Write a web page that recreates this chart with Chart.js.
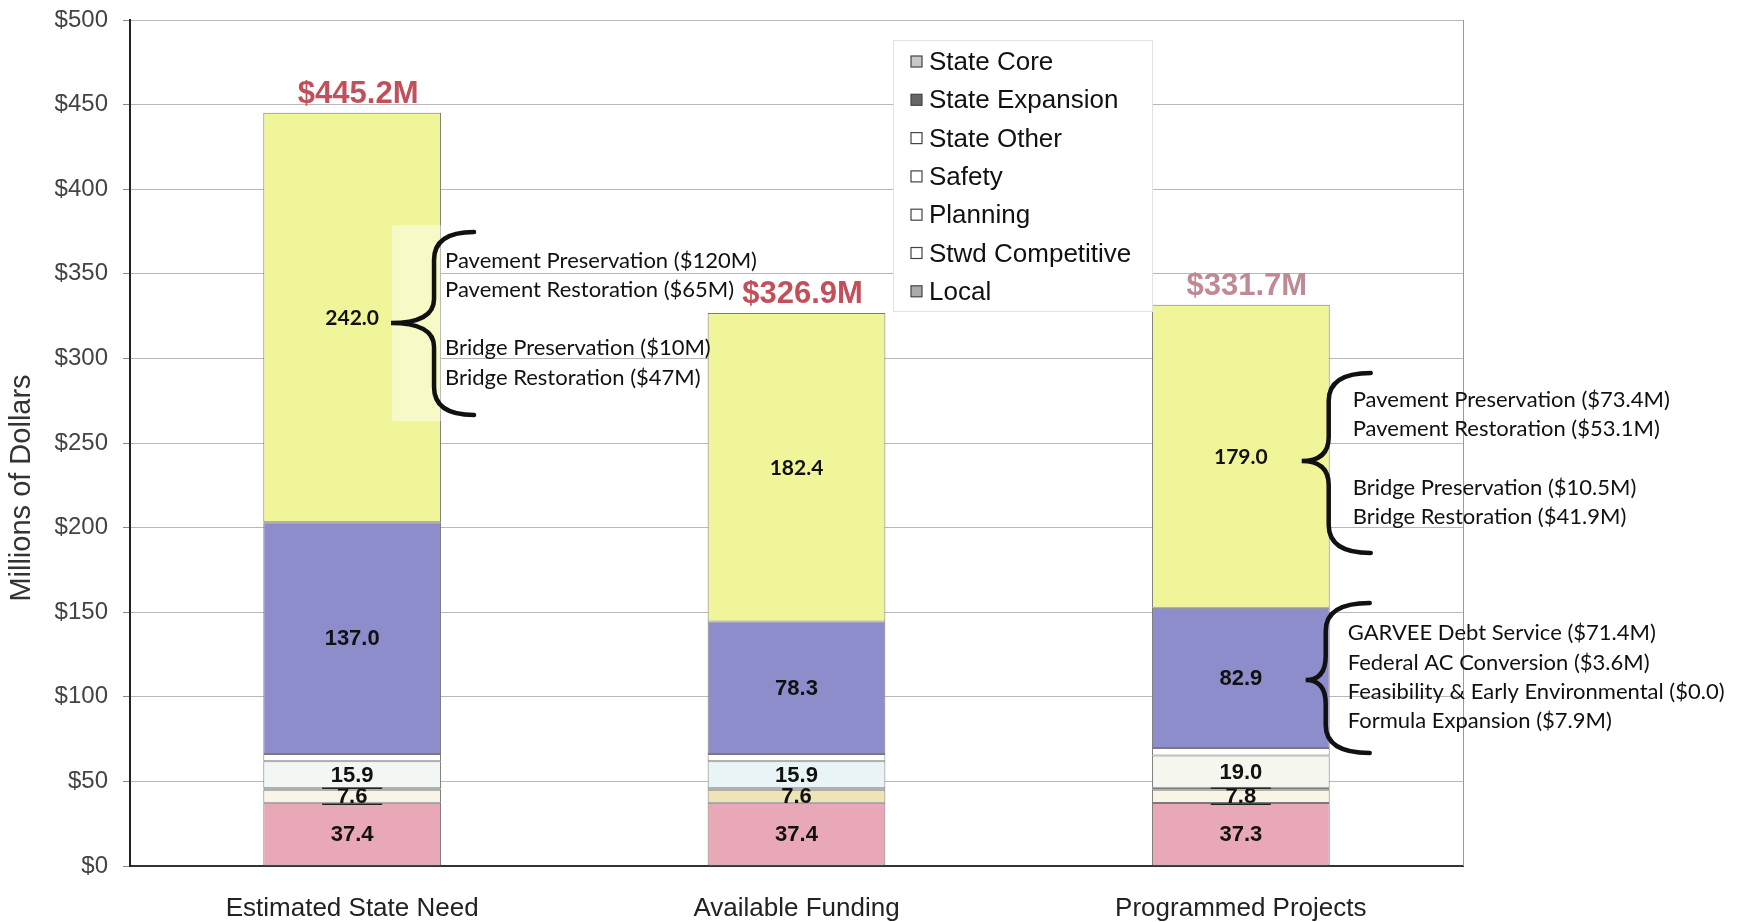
<!DOCTYPE html>
<html>
<head>
<meta charset="utf-8">
<script src="https://cdn.jsdelivr.net/npm/chart.js@4.4.0/dist/chart.umd.min.js"></script>
<style>
  html, body { margin: 0; padding: 0; background: #fff; }
  #wrap { width: 1741px; height: 922px; }
</style>
</head>
<body>
<div id="wrap"><canvas id="fundingChart" width="1741" height="922"></canvas></div>
<script>
// Funding by program group, $ millions
const categories = ['Estimated State Need', 'Available Funding', 'Programmed Projects'];
const local = [37.4, 37.4, 37.3];
const stwdCompetitive = [7.6, 7.6, 7.8];
const planning = [1.0, 1.0, 1.2];
const safety = [15.9, 15.9, 19.0];
const stateOther = [4.3, 4.3, 4.5];
const stateExpansion = [137.0, 78.3, 82.9];
const stateCore = [242.0, 182.4, 179.0];
const totals = [445.2, 326.9, 331.7];
const yTicks = [0, 50, 100, 150, 200, 250, 300, 350, 400, 450, 500];

// brace call-outs, y given in $M on the value axis, x offsets from the bar's right edge
const braces = [
  { bar: 0, top: 374.7, bottom: 266.5, tip: 320.9, tipDx: -50, spineDx: -7, endDx: 33 },
  { bar: 2, top: 291.4, bottom: 185.0, tip: 239.4, tipDx: -28, spineDx: -1, endDx: 41 },
  { bar: 2, top: 155.4, bottom: 66.8, tip: 109.9, tipDx: -24, spineDx: -4, endDx: 40 }
];
const noteLines = [
  { bar: 0, dx: 4, y: 357.5, text: 'Pavement Preservation ($120M)' },
  { bar: 0, dx: 4, y: 340.4, text: 'Pavement Restoration ($65M)' },
  { bar: 0, dx: 4, y: 306.1, text: 'Bridge Preservation ($10M)' },
  { bar: 0, dx: 4, y: 288.4, text: 'Bridge Restoration ($47M)' },
  { bar: 2, dx: 23, y: 275.4, text: 'Pavement Preservation ($73.4M)' },
  { bar: 2, dx: 23, y: 258.3, text: 'Pavement Restoration ($53.1M)' },
  { bar: 2, dx: 23, y: 223.4, text: 'Bridge Preservation ($10.5M)' },
  { bar: 2, dx: 23, y: 206.3, text: 'Bridge Restoration ($41.9M)' },
  { bar: 2, dx: 18, y: 137.7, text: 'GARVEE Debt Service ($71.4M)' },
  { bar: 2, dx: 18, y: 120.0, text: 'Federal AC Conversion ($3.6M)' },
  { bar: 2, dx: 18, y: 102.8, text: 'Feasibility & Early Environmental ($0.0)' },
  { bar: 2, dx: 18, y: 85.7, text: 'Formula Expansion ($7.9M)' }
];

const ARIAL = 'Liberation Sans, Arial, sans-serif';
const CALIBRI = 'Lato, Carlito, sans-serif';

const datasets = [
  { label: 'Local', data: local, backgroundColor: '#e9a8b7', showValue: true,
    valueFont: 'bold 22px ' + ARIAL, swatch: '#aaa' },
  { label: 'Stwd Competitive', data: stwdCompetitive,
    backgroundColor: ['#f8f5e6', '#efe4b6', '#f8f5e4'], showValue: true,
    valueFont: 'bold 22px ' + ARIAL, swatch: '#fff', ruledBars: [0, 2] },
  { label: 'Planning', data: planning, backgroundColor: '#f5f5ef', swatch: '#fff' },
  { label: 'Safety', data: safety, backgroundColor: ['#f3f7f4', '#e9f4f6', '#f5f7ef'],
    showValue: true, valueFont: 'bold 22px ' + ARIAL, swatch: '#fff' },
  { label: 'State Other', data: stateOther, backgroundColor: '#ffffff', swatch: '#fff' },
  { label: 'State Expansion', data: stateExpansion, backgroundColor: '#8e8dcb',
    showValue: true, valueFont: 'bold 22px ' + ARIAL, swatch: '#666' },
  { label: 'State Core', data: stateCore, backgroundColor: '#f0f59a',
    showValue: true, valueFont: 'bold 21px ' + CALIBRI, swatch: '#c8c8c8' }
].map(ds => Object.assign({
  borderColor: '#7a7a7a',
  borderWidth: 1,
  borderSkipped: false,
  categoryPercentage: 1.0,
  barPercentage: 0.4
}, ds));

function barRight(chart, idx) {
  const bar = chart.getDatasetMeta(0).data[idx];
  return bar.x + bar.width / 2;
}

const segmentLabels = {
  id: 'segmentLabels',
  afterDatasetsDraw(chart) {
    const ctx = chart.ctx;
    const yScale = chart.scales.y;
    ctx.save();

    // translucent text-box behind the first call-out
    const r0 = barRight(chart, 0);
    ctx.fillStyle = 'rgba(255,255,255,0.45)';
    const bt = yScale.getPixelForValue(378.8), bb = yScale.getPixelForValue(263);
    ctx.fillRect(r0 - 49, bt, 49, bb - bt);

    ctx.textAlign = 'center';
    ctx.textBaseline = 'middle';
    chart.data.datasets.forEach((ds, i) => {
      if (!ds.showValue) return;
      chart.getDatasetMeta(i).data.forEach((bar, j) => {
        const cy = (bar.y + bar.base) / 2 + 1;
        ctx.font = ds.valueFont;
        ctx.fillStyle = '#111';
        ctx.fillText(ds.data[j].toFixed(1), bar.x, cy);
        // small label boxes drawn as rules above and below the thin segment label
        if (ds.ruledBars && ds.ruledBars.includes(j)) {
          ctx.strokeStyle = '#222';
          ctx.lineWidth = 1.5;
          ctx.beginPath();
          ctx.moveTo(bar.x - 30, cy - 9); ctx.lineTo(bar.x + 30, cy - 9);
          ctx.moveTo(bar.x - 30, cy + 7); ctx.lineTo(bar.x + 30, cy + 7);
          ctx.stroke();
        }
      });
    });

    // stack totals above each bar
    const totalColors = ['#c1505a', '#c1505a', '#c08a95'];
    ctx.font = 'bold 31px ' + ARIAL;
    chart.getDatasetMeta(0).data.forEach((bar, j) => {
      ctx.fillStyle = totalColors[j];
      ctx.fillText('$' + totals[j].toFixed(1) + 'M', bar.x + 6, yScale.getPixelForValue(totals[j]) - 18);
    });
    ctx.restore();
  }
};

const callouts = {
  id: 'callouts',
  afterDraw(chart) {
    const ctx = chart.ctx;
    const y = chart.scales.y;
    const area = chart.chartArea;
    ctx.save();

    // plot frame on the right
    ctx.strokeStyle = '#9a9a9a';
    ctx.lineWidth = 1;
    ctx.beginPath();
    ctx.moveTo(area.right + 0.5, area.top);
    ctx.lineTo(area.right + 0.5, area.bottom);
    ctx.stroke();

    ctx.strokeStyle = '#111';
    ctx.lineWidth = 4.5;
    ctx.lineCap = 'round';
    braces.forEach(b => {
      const r = barRight(chart, b.bar);
      const tx = r + b.tipDx, sx = r + b.spineDx, ex = r + b.endDx;
      const top = y.getPixelForValue(b.top), bot = y.getPixelForValue(b.bottom);
      const tip = y.getPixelForValue(b.tip);
      const c = 28, k = 24;
      ctx.beginPath();
      ctx.moveTo(ex, top);
      ctx.quadraticCurveTo(sx, top, sx, top + c);
      ctx.lineTo(sx, tip - k);
      ctx.quadraticCurveTo(sx, tip, tx, tip);
      ctx.quadraticCurveTo(sx, tip, sx, tip + k);
      ctx.lineTo(sx, bot - c);
      ctx.quadraticCurveTo(sx, bot, ex, bot);
      ctx.stroke();
    });

    ctx.fillStyle = '#111';
    ctx.font = '22px ' + CALIBRI;
    ctx.textAlign = 'left';
    ctx.textBaseline = 'middle';
    noteLines.forEach(n => {
      ctx.fillText(n.text, barRight(chart, n.bar) + n.dx, y.getPixelForValue(n.y));
    });

    // axis title
    ctx.save();
    ctx.translate(22, 488);
    ctx.rotate(-Math.PI / 2);
    ctx.textAlign = 'center';
    ctx.fillStyle = '#333';
    ctx.font = '29px ' + ARIAL;
    ctx.fillText('Millions of Dollars', 0, 0);
    ctx.restore();

    // legend box, top series first
    const lx = 893, ly = 40, lw = 259, lh = 271;
    ctx.fillStyle = '#fff';
    ctx.fillRect(lx, ly, lw, lh);
    ctx.strokeStyle = '#e2e2e2';
    ctx.lineWidth = 1;
    ctx.strokeRect(lx + 0.5, ly + 0.5, lw, lh);
    ctx.font = '26px ' + ARIAL;
    const items = chart.data.datasets.slice().reverse();
    items.forEach((ds, i) => {
      const cy = ly + 22 + i * 38.3;
      ctx.fillStyle = ds.swatch;
      ctx.fillRect(911, cy - 6, 11, 11);
      ctx.strokeStyle = '#444';
      ctx.lineWidth = 1.2;
      ctx.strokeRect(911, cy - 6, 11, 11);
      ctx.fillStyle = '#111';
      ctx.fillText(ds.label, 929, cy + 1);
    });
    ctx.restore();
  }
};

new Chart(document.getElementById('fundingChart'), {
  type: 'bar',
  data: { labels: categories, datasets },
  options: {
    responsive: false,
    animation: false,
    layout: { padding: { left: 0, right: 278, top: 20, bottom: 0 } },
    plugins: { legend: { display: false }, tooltip: { enabled: false } },
    scales: {
      x: {
        stacked: true,
        grid: { display: false, drawTicks: false },
        border: { color: '#333', width: 2 },
        ticks: { color: '#222', font: { family: ARIAL, size: 26 }, padding: 27 },
        afterFit(scale) { scale.height = 56; }
      },
      y: {
        stacked: true,
        min: 0,
        max: 500,
        afterBuildTicks(scale) { scale.ticks = yTicks.map(v => ({ value: v })); },
        grid: { color: '#b8b8b8', lineWidth: 1, tickLength: 7, tickColor: '#888' },
        border: { color: '#222', width: 2 },
        ticks: {
          color: '#444',
          font: { family: ARIAL, size: 24 },
          padding: 15,
          callback: v => '$' + v
        },
        afterFit(scale) {
          scale.width = 130;
          scale.paddingTop = 0;
          scale.paddingBottom = 0;
        }
      }
    }
  },
  plugins: [segmentLabels, callouts]
});
</script>
</body>
</html>
